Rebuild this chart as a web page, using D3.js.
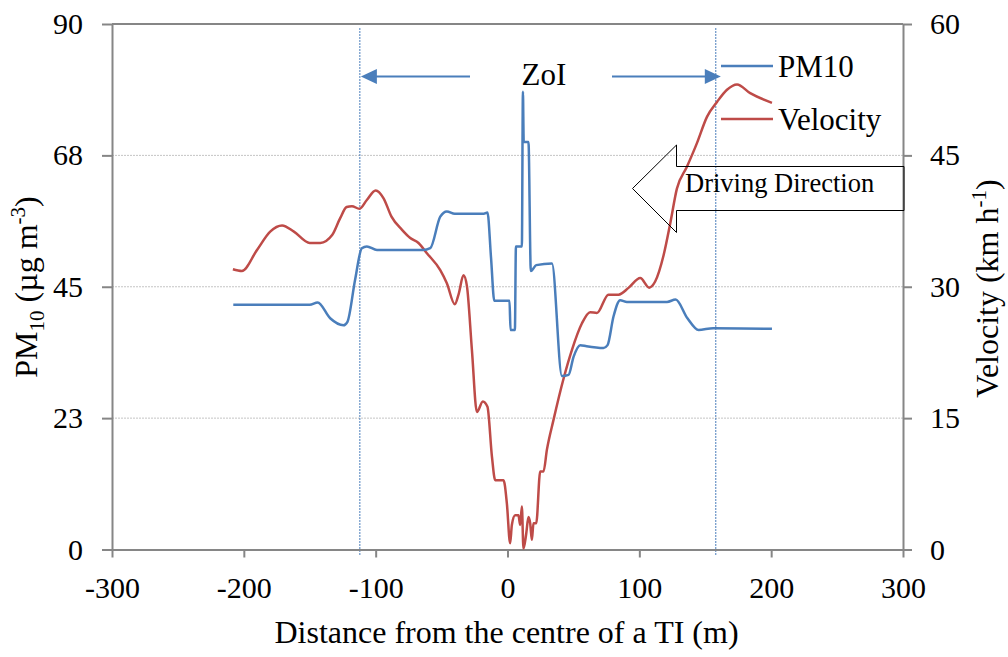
<!DOCTYPE html>
<html>
<head>
<meta charset="utf-8">
<script src="https://cdn.jsdelivr.net/npm/d3@7"></script>
<style>
  html, body { margin: 0; padding: 0; background: #fff; }
  svg { display: block; font-family: "Liberation Serif", "Times New Roman", serif; }
</style>
</head>
<body>
<svg id="chart" width="1008" height="657"></svg>
<script>
// Axis ticks
const distanceTicks = [-300, -200, -100, 0, 100, 200, 300];
const pmTicks = [0, 22.5, 45, 67.5, 90];
const pmTickLabels = ["0", "23", "45", "68", "90"];
const velocityTicks = [0, 15, 30, 45, 60];

// PM10 concentration (µg m-3) against distance from the intersection centre (m)
const pmDistance = [-208, -150, -144, -134.5, -124.4, -121.4, -115.6, -110.5, -106.7, -99, -64, -58.6, -51, -46, -40,
  -18, -15.2, -12.5, -10, 1.5, 2.3, 5.6, 6.4, 10.9, 11.7, 12.3, 15.9, 17.7, 21.8, 33.7, 41.3, 46.3, 50.1, 55.2, 60,
  72.8, 75.9, 80.4, 85.5, 90.6, 121, 127.5, 136.5, 144.9, 156, 200.6];
const pmValue = [41.9, 41.9, 42.3, 39.6, 38.4, 39.0, 46.2, 51.6, 51.9, 51.3, 51.3, 51.6, 57.0, 57.9, 57.5,
  57.5, 57.7, 50.0, 42.6, 42.6, 37.6, 37.6, 51.9, 51.9, 78.4, 69.8, 69.8, 47.7, 48.7, 49.0, 29.7, 29.9, 33.0, 35.0, 34.8,
  34.5, 35.0, 39.9, 42.7, 42.4, 42.4, 42.8, 39.6, 37.6, 37.9, 37.8];

// Vehicle speed (km h-1) against distance
const velDistance = [-208.3, -201.5, -190, -180, -171, -162, -150, -142, -133, -127, -122, -118, -112.3, -106.7, -100,
  -94, -88, -80, -74, -67.5, -61, -51, -46, -40, -37, -33.4, -30.8, -27, -23.2, -18.7, -15.2, -11.8, -9.3, -3, -0.5,
  2, 3.3, 5.8, 8.3, 9.6, 10.9, 12.1, 14.2, 15.9, 17.2, 18.5, 19.7, 21.8, 24.8, 27.3, 29.9, 34.9, 42.5, 48.9, 56.4,
  62.7, 67.8, 76.6, 84.2, 92, 100.7, 107.5, 112, 118.4, 123.4, 128.5, 136.1, 143.7, 151.3, 158.9, 166.5, 174.1,
  184.1, 200.6];
const velValue = [32.0, 31.8, 34.2, 36.3, 37.0, 36.3, 35.0, 35.0, 35.9, 37.8, 39.1, 39.2, 38.9, 39.9, 41.0,
  40.1, 38.0, 36.5, 35.6, 35.0, 33.8, 31.9, 30.4, 28.0, 29.2, 31.3, 30.1, 22.8, 15.7, 16.9, 16.3, 10.6, 7.9, 7.9, 5.3,
  0.7, 2.8, 3.9, 3.9, 2.8, 4.9, 0.1, 1.8, 3.7, 3.0, 1.1, 3.0, 3.0, 8.9, 8.9, 11.4, 14.8, 19.5, 22.8, 25.8,
  27.1, 27.0, 29.1, 29.1, 29.9, 31.0, 29.9, 30.6, 33.6, 37.2, 41.2, 43.7, 46.4, 49.4, 51.1, 52.5, 53.1,
  52.1, 51.0];

// Zone of influence limits (m)
const zoiBounds = [-112, 158];

const seriesNames = ["PM10", "Velocity"];
const seriesColors = ["#4A7EBB", "#BE4B48"];

const svg = d3.select("#chart");
const plotLeft = 112, plotRight = 903, plotTop = 24, plotBottom = 549.5;
const axisColor = "#868686";
const serif = '"Liberation Serif", "Times New Roman", serif';

const x = d3.scaleLinear().domain([-300, 300]).range([plotLeft, plotRight]);
const yPM = d3.scaleLinear().domain([0, 90]).range([plotBottom, plotTop]);
const yVel = d3.scaleLinear().domain([0, 60]).range([plotBottom, plotTop]);

// horizontal gridlines
svg.append("g").selectAll("line")
  .data(pmTicks.slice(1, -1))
  .join("line")
  .attr("x1", plotLeft).attr("x2", plotRight)
  .attr("y1", d => yPM(d)).attr("y2", d => yPM(d))
  .attr("stroke", "#c4c4c4").attr("stroke-width", 1).attr("stroke-dasharray", "2,1");

// top border
svg.append("line")
  .attr("x1", plotLeft).attr("x2", plotRight).attr("y1", yPM(90)).attr("y2", yPM(90))
  .attr("stroke", axisColor).attr("stroke-width", 2);

// ZoI boundary lines
svg.append("g").selectAll("line")
  .data(zoiBounds)
  .join("line")
  .attr("x1", d => x(d)).attr("x2", d => x(d))
  .attr("y1", 28).attr("y2", 555)
  .attr("stroke", "#4A7EBB").attr("stroke-width", 1).attr("stroke-dasharray", "2,1");

function styleAxis(g) {
  g.attr("font-family", serif);
  g.select(".domain").attr("stroke", axisColor).attr("stroke-width", 2);
  g.selectAll(".tick line").attr("stroke", axisColor).attr("stroke-width", 2);
  g.selectAll(".tick text").attr("fill", "#000").style("font-size", "30px").style("font-family", serif);
}

svg.append("g")
  .attr("transform", `translate(0,${plotBottom})`)
  .call(d3.axisBottom(x).tickValues(distanceTicks).tickFormat(d => String(d))
    .tickSize(8).tickSizeOuter(0).tickPadding(19))
  .call(styleAxis);

svg.append("g")
  .attr("transform", `translate(${plotLeft},0)`)
  .call(d3.axisLeft(yPM).tickValues(pmTicks).tickFormat((d, i) => pmTickLabels[i])
    .tickSize(10).tickSizeOuter(0).tickPadding(19))
  .call(styleAxis);

svg.append("g")
  .attr("transform", `translate(${plotRight},0)`)
  .call(d3.axisRight(yVel).tickValues(velocityTicks).tickFormat(d => String(d))
    .tickSize(9).tickSizeOuter(0).tickPadding(18))
  .call(styleAxis);

// series
const pmData = pmDistance.map((d, i) => [d, pmValue[i]]);
const velData = velDistance.map((d, i) => [d, velValue[i]]);

svg.append("path")
  .datum(velData)
  .attr("fill", "none").attr("stroke", seriesColors[1]).attr("stroke-width", 2.5)
  .attr("stroke-linejoin", "round")
  .attr("d", d3.line().x(d => x(d[0])).y(d => yVel(d[1])).curve(d3.curveMonotoneX));

svg.append("path")
  .datum(pmData)
  .attr("fill", "none").attr("stroke", seriesColors[0]).attr("stroke-width", 2.5)
  .attr("stroke-linejoin", "round")
  .attr("d", d3.line().x(d => x(d[0])).y(d => yPM(d[1])).curve(d3.curveMonotoneX));

// ZoI arrows and label
const arrowY = 76.5;
const zoiColor = "#4A7EBB";
const lTip = x(zoiBounds[0]) + 1, rTip = x(zoiBounds[1]) + 5;
svg.append("line").attr("x1", 470).attr("x2", lTip + 15).attr("y1", arrowY).attr("y2", arrowY)
  .attr("stroke", zoiColor).attr("stroke-width", 2);
svg.append("polygon")
  .attr("points", `${lTip},${arrowY} ${lTip + 16},${arrowY - 7.5} ${lTip + 16},${arrowY + 7.5}`)
  .attr("fill", zoiColor);
svg.append("line").attr("x1", 612).attr("x2", rTip - 15).attr("y1", arrowY).attr("y2", arrowY)
  .attr("stroke", zoiColor).attr("stroke-width", 2);
svg.append("polygon")
  .attr("points", `${rTip},${arrowY} ${rTip - 16},${arrowY - 7.5} ${rTip - 16},${arrowY + 7.5}`)
  .attr("fill", zoiColor);
svg.append("text").attr("x", 544).attr("y", 85).attr("text-anchor", "middle")
  .style("font-size", "31px").text("ZoI");

// driving direction block arrow
svg.append("polygon")
  .attr("points", "632.5,188.5 676.5,145 676.5,166.5 904,166.5 904,210.5 676.5,210.5 676.5,232.5")
  .attr("fill", "none").attr("stroke", "#000").attr("stroke-width", 1);
svg.append("text").attr("x", 685).attr("y", 191.5)
  .style("font-size", "26.5px").text("Driving Direction");

// legend
const legendY = [66, 119];
seriesNames.forEach((name, i) => {
  svg.append("line").attr("x1", 721).attr("x2", 773).attr("y1", legendY[i]).attr("y2", legendY[i])
    .attr("stroke", seriesColors[i]).attr("stroke-width", 2.5);
  svg.append("text").attr("x", 778).attr("y", legendY[i] + 10.5)
    .style("font-size", "31px").text(name);
});

// axis titles
svg.append("text").attr("x", 506.5).attr("y", 643).attr("text-anchor", "middle")
  .style("font-size", "32px").text("Distance from the centre of a TI (m)");

const yTitle = svg.append("text")
  .attr("transform", "translate(37,287) rotate(-90)")
  .attr("text-anchor", "middle").style("font-size", "32px");
yTitle.append("tspan").text("PM");
yTitle.append("tspan").attr("dy", 7).style("font-size", "21px").text("10");
yTitle.append("tspan").attr("dy", -7).text(" (µg m");
yTitle.append("tspan").attr("dy", -12).style("font-size", "21px").text("-3");
yTitle.append("tspan").attr("dy", 12).text(")");

const vTitle = svg.append("text")
  .attr("transform", "translate(998,288.5) rotate(-90)")
  .attr("text-anchor", "middle").style("font-size", "32px");
vTitle.append("tspan").text("Velocity (km h");
vTitle.append("tspan").attr("dy", -12).style("font-size", "21px").text("-1");
vTitle.append("tspan").attr("dy", 12).text(")");
</script>
</body>
</html>
